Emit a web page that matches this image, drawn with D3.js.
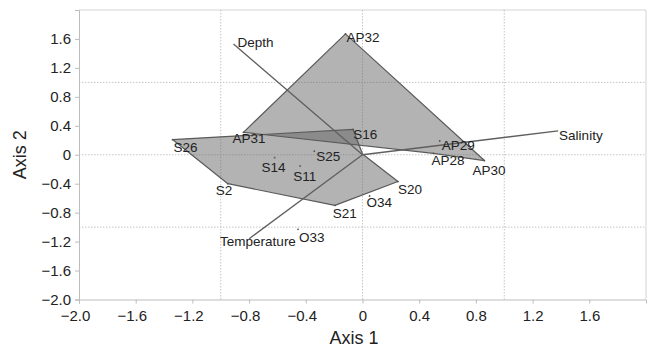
<!DOCTYPE html>
<html>
<head>
<meta charset="utf-8">
<script src="https://cdn.jsdelivr.net/npm/d3@7"></script>
<style>
  html, body { margin: 0; padding: 0; background: #fff; }
  svg { display: block; }
  text { font-family: "Liberation Sans", Arial, Helvetica, sans-serif; fill: #222; }
</style>
</head>
<body>
<svg id="chart" width="648" height="347"></svg>
<script>
// Ordination scores of the sampling sites
const siteNames = ["S26", "S16", "S20", "S21", "S2", "S14", "S11", "S25",
                   "AP31", "AP32", "AP30", "AP28", "AP29", "O33", "O34"];
const siteAxis1 = [-1.34, -0.066, 0.25, -0.195, -0.95, -0.62, -0.44, -0.34,
                   -0.84, -0.12, 0.86, 0.50, 0.545, -0.455, 0.05];
const siteAxis2 = [0.21, 0.35, -0.37, -0.70, -0.40, -0.04, -0.155, 0.05,
                   0.31, 1.67, -0.08, 0.02, 0.19, -1.03, -0.57];

// Group outlines as vertex lists (Axis 1, Axis 2)
const outlineS = [[-1.34, 0.21], [-0.066, 0.35], [0.0, 0.01], [0.25, -0.37],
                  [-0.195, -0.70], [-0.95, -0.40]];
const outlineAP = [[-0.84, 0.31], [-0.12, 1.67], [0.86, -0.08], [0.50, 0.02]];

// Environmental variable vectors
const envNames = ["Depth", "Temperature", "Salinity"];
const envAxis1 = [-0.91, -0.80, 1.38];
const envAxis2 = [1.53, -1.16, 0.33];

// Axis ticks and reference lines
const tickValues = [-2.0, -1.6, -1.2, -0.8, -0.4, 0, 0.4, 0.8, 1.2, 1.6];
const refLines = [-1, 0, 1];

// Label placement relative to each site point (px)
const labelOffset = {
  S26: [1, 12], S16: [0, 10], S20: [0, 12], S21: [-2, 13], S2: [-12, 11],
  S14: [-13, 14], S11: [-7, 15], S25: [2, 10],
  AP31: [-11, 11], AP32: [1, 8], AP30: [-12, 14], AP28: [-2, 12], AP29: [2, 9.5],
  O33: [1, 12.5], O34: [-3, 11]
};
const envLabelOffset = { Depth: [4, 2.5], Temperature: [-29, 7], Salinity: [1, 9.5] };

const svg = d3.select("#chart");
const plotL = 79, plotR = 646, plotT = 10, plotB = 299.5;

const x = d3.scaleLinear().domain([-2, 2]).range([plotL, plotR]);
const y = d3.scaleLinear().domain([-2, 2]).range([plotB, plotT]);

const fmt = v => v === 0 ? "0" : d3.format(".1f")(v);

// frame
svg.append("path")
  .attr("d", `M${plotL},${plotT}H${plotR}V${plotB}`)
  .attr("fill", "none").attr("stroke", "#d4d4d4").attr("stroke-width", 1);

// dotted reference lines
const grid = svg.append("g").attr("stroke", "#c4c4c4").attr("stroke-width", 1)
  .attr("stroke-dasharray", "1.5,1.5");
grid.selectAll("line.v").data(refLines).join("line").attr("class", "v")
  .attr("x1", d => x(d)).attr("x2", d => x(d)).attr("y1", plotT).attr("y2", plotB);
grid.selectAll("line.h").data(refLines).join("line").attr("class", "h")
  .attr("y1", d => y(d)).attr("y2", d => y(d)).attr("x1", plotL).attr("x2", plotR);

// axes
const xAxis = svg.append("g").attr("transform", `translate(0,${plotB})`)
  .call(d3.axisBottom(x).tickValues(tickValues).tickFormat(fmt).tickSize(4).tickPadding(7));
const yAxis = svg.append("g").attr("transform", `translate(${plotL},0)`)
  .call(d3.axisLeft(y).tickValues(tickValues).tickFormat(fmt).tickSize(4).tickPadding(4));
[xAxis, yAxis].forEach(g => {
  g.select(".domain").attr("stroke", "#bdbdbd");
  g.selectAll(".tick line").attr("stroke", "#bdbdbd");
  g.selectAll(".tick text").attr("font-size", 15).attr("fill", "#222")
    .attr("font-family", "'Liberation Sans', Arial, sans-serif");
});
xAxis.selectAll(".tick text").attr("dx", d => d < 0 ? -4 : 0);

// axis titles
svg.append("text").attr("x", 354).attr("y", 344).attr("text-anchor", "middle")
  .attr("font-size", 18).text("Axis 1");
svg.append("text").attr("transform", `translate(26,${y(0)}) rotate(-90)`)
  .attr("text-anchor", "middle").attr("font-size", 18).text("Axis 2");

const outline = d3.line().x(d => x(d[0])).y(d => y(d[1])).curve(d3.curveLinearClosed);

// group outlines
[outlineS, outlineAP].forEach(g => {
  svg.append("path")
    .datum(g)
    .attr("d", outline)
    .attr("fill", "#5e5e5e").attr("fill-opacity", 0.47)
    .attr("stroke", "#5a5a5a").attr("stroke-width", 1.2).attr("stroke-linejoin", "round");
});

// environmental vectors from origin
envNames.forEach((n, i) => {
  svg.append("line")
    .attr("x1", x(0)).attr("y1", y(0))
    .attr("x2", x(envAxis1[i])).attr("y2", y(envAxis2[i]))
    .attr("stroke", "#5f5f5f").attr("stroke-width", 1.3);
  const o = envLabelOffset[n];
  svg.append("text").attr("x", x(envAxis1[i]) + o[0]).attr("y", y(envAxis2[i]) + o[1])
    .attr("font-size", 13.5).text(n);
});

// site points and labels
siteNames.forEach((n, i) => {
  const px = x(siteAxis1[i]), py = y(siteAxis2[i]);
  svg.append("circle").attr("cx", px).attr("cy", py).attr("r", 0.9).attr("fill", "#555");
  const o = labelOffset[n];
  svg.append("text").attr("x", px + o[0]).attr("y", py + o[1])
    .attr("font-size", 13.5).text(n);
});
</script>
</body>
</html>
